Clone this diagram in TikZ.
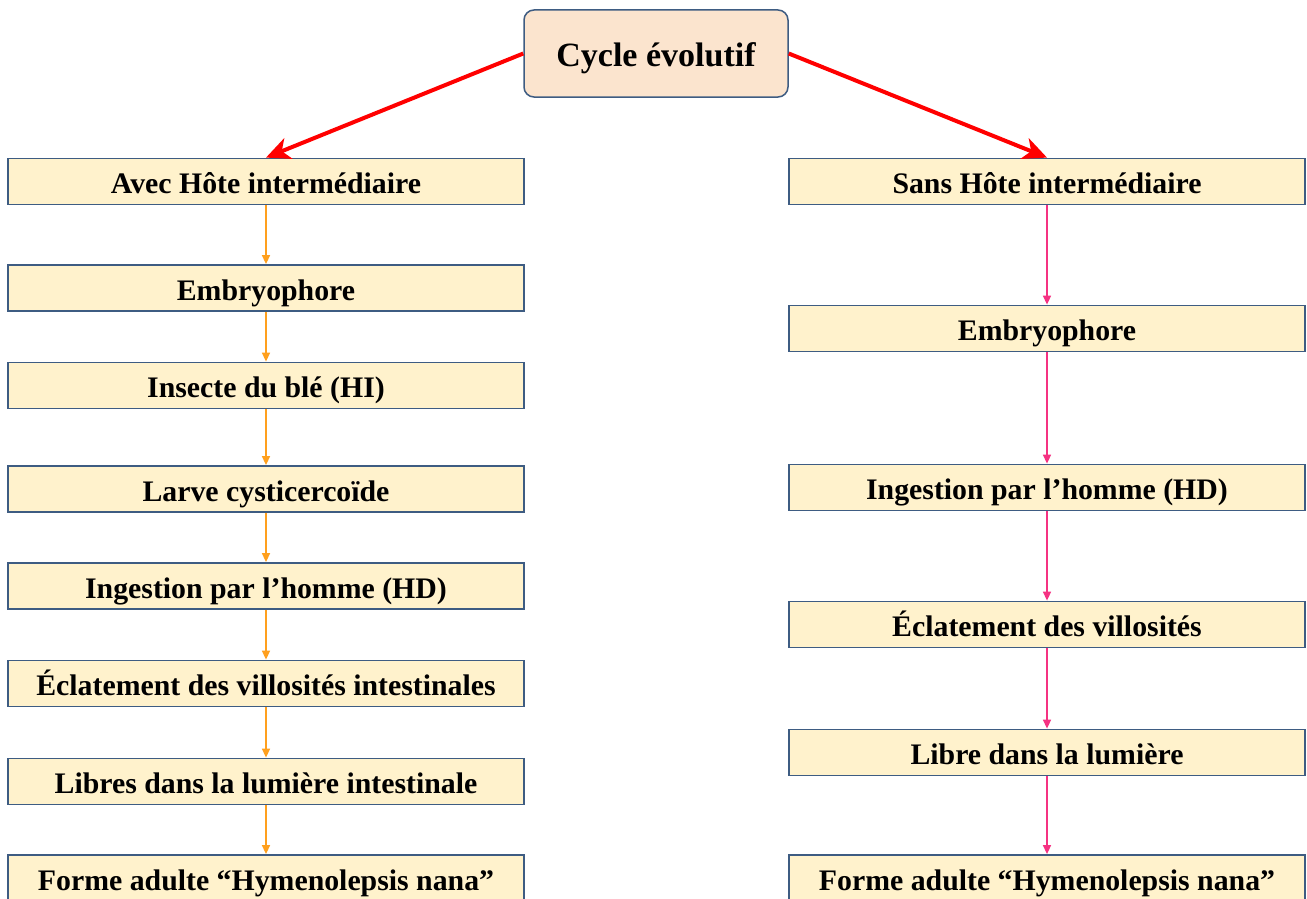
\documentclass[tikz,border=0pt]{standalone}
\usepackage{fontspec}
\setmainfont{Liberation Serif}
\usetikzlibrary{arrows.meta}
\definecolor{boxfill}{RGB}{255,242,204}
\definecolor{topfill}{RGB}{251,228,206}
\definecolor{edge}{RGB}{62,92,130}
\definecolor{orangeA}{RGB}{255,160,30}
\definecolor{pinkA}{RGB}{245,50,130}
\definecolor{redA}{RGB}{255,0,0}
\begin{document}
\begin{tikzpicture}[x=1pt,y=-1pt,
  stepbox/.style={draw=edge,line width=1.8pt,fill=boxfill,inner sep=0pt,
    minimum width=516pt,minimum height=46pt,text height=24.5pt,text depth=0pt,
    font=\fontsize{29.8}{32}\selectfont\bfseries},
  topbox/.style={draw=edge,line width=1.5pt,fill=topfill,rounded corners=10pt,inner sep=0pt,
    minimum width=264pt,minimum height=87pt,text height=25.4pt,text depth=0pt,
    font=\fontsize{34}{38}\selectfont\bfseries},
  bigarrow/.style={draw=redA,line width=4pt,-{Stealth[length=24pt,width=22pt,inset=7pt]}},
  orarrow/.style={draw=orangeA,line width=1.5pt,-{Stealth[length=9pt,width=8pt,inset=0pt]}},
  pkarrow/.style={draw=pinkA,line width=1.5pt,-{Stealth[length=9pt,width=8pt,inset=0pt]}}
]
\clip (0,0) rectangle (1307,899);
\fill[white] (0,0) rectangle (1307,899);

\node[topbox] (top) at (656,53.5) {Cycle évolutif};

\node[stepbox] (l1) at (266,181.5) {Avec Hôte intermédiaire};
\node[stepbox] (l2) at (266,288) {Embryophore};
\node[stepbox] (l3) at (266,385.5) {Insecte du blé (HI)};
\node[stepbox] (l4) at (266,489) {Larve cysticercoïde};
\node[stepbox] (l5) at (266,586) {Ingestion par l’homme (HD)};
\node[stepbox] (l6) at (266,683.5) {Éclatement des villosités intestinales};
\node[stepbox] (l7) at (266,781.5) {Libres dans la lumière intestinale};
\node[stepbox] (l8) at (266,878) {Forme adulte “Hymenolepsis nana”};

\node[stepbox] (r1) at (1047,181.5) {Sans Hôte intermédiaire};
\node[stepbox] (r2) at (1047,328.5) {Embryophore};
\node[stepbox] (r3) at (1047,487.5) {Ingestion par l’homme (HD)};
\node[stepbox] (r4) at (1047,624.5) {Éclatement des villosités};
\node[stepbox] (r5) at (1047,752.5) {Libre dans la lumière};
\node[stepbox] (r6) at (1047,878) {Forme adulte “Hymenolepsis nana”};

\draw[bigarrow] (top.west) -- (l1.north);
\draw[bigarrow] (top.east) -- (r1.north);

\foreach \a/\b in {l1/l2,l2/l3,l3/l4,l4/l5,l5/l6,l6/l7,l7/l8}
  \draw[orarrow] (\a.south) -- (\b.north);
\foreach \a/\b in {r1/r2,r2/r3,r3/r4,r4/r5,r5/r6}
  \draw[pkarrow] (\a.south) -- (\b.north);
\end{tikzpicture}
\end{document}
